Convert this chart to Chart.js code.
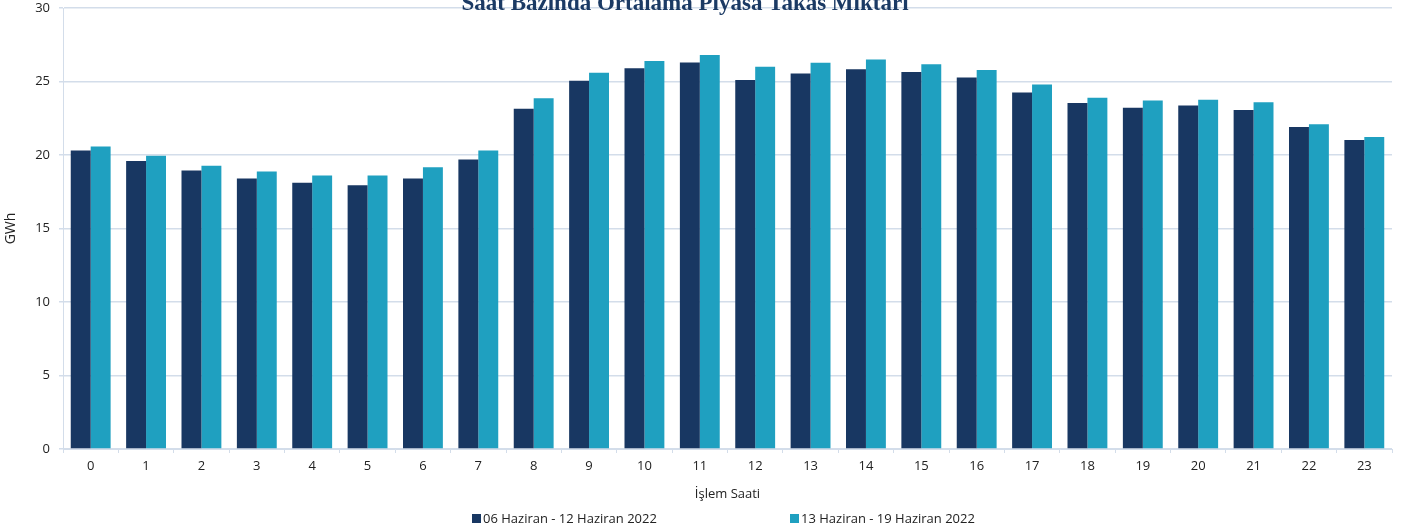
<!DOCTYPE html>
<html>
<head>
<meta charset="utf-8">
<script src="https://cdn.jsdelivr.net/npm/chart.js@4.4.1/dist/chart.umd.min.js"></script>
<style>
  html, body { margin: 0; padding: 0; background: #fff; }
  #wrap { position: relative; width: 1417px; height: 532px; overflow: hidden; }
  #c { position: absolute; left: 0; top: 0; }
  .leg { position: absolute; top: 509px; font: 13px "Open Sans", sans-serif; color: #222; white-space: nowrap; line-height: 18px; }
  .leg i { display: inline-block; width: 9px; height: 9px; margin-right: 2px; vertical-align: 0px; }
</style>
</head>
<body>
<div id="wrap">
  <canvas id="c" width="1417" height="532"></canvas>
  <div class="leg" id="leg1" style="left:472px"><i style="background:#183762"></i>06 Haziran - 12 Haziran 2022</div>
  <div class="leg" id="leg2" style="left:790px"><i style="background:#1FA0C0"></i>13 Haziran - 19 Haziran 2022</div>
</div>
<script>
const chartTitle = "Saat Bazında Ortalama Piyasa Takas Miktarı";
const xTitle = "İşlem Saati";
const yTitle = "GWh";
const categories = ["0","1","2","3","4","5","6","7","8","9","10","11","12","13","14","15","16","17","18","19","20","21","22","23"];
const seriesNames = ["06 Haziran - 12 Haziran 2022", "13 Haziran - 19 Haziran 2022"];
const week1 = [20.3, 19.6, 18.95, 18.4, 18.12, 17.95, 18.4, 19.7, 23.15, 25.05, 25.9, 26.3, 25.1, 25.55, 25.83, 25.65, 25.27, 24.25, 23.54, 23.22, 23.36, 23.06, 21.9, 21.02];
const week2 = [20.58, 19.95, 19.27, 18.88, 18.6, 18.6, 19.16, 20.3, 23.86, 25.6, 26.4, 26.8, 26.0, 26.28, 26.5, 26.17, 25.78, 24.8, 23.9, 23.7, 23.76, 23.58, 22.1, 21.22];
const yTicks = [0, 5, 10, 15, 20, 25, 30];

const gridColor = "#D3DDEA";
const tickFont = { family: "'Open Sans', sans-serif", size: 13 };

const titlePlugin = {
  id: "topTitle",
  afterDraw(chart) {
    const ctx = chart.ctx;
    ctx.save();
    ctx.font = "bold 23px 'Liberation Serif', serif";
    ctx.fillStyle = "#1B3A64";
    ctx.textAlign = "center";
    ctx.textBaseline = "alphabetic";
    ctx.fillText(chartTitle, 685, 10);
    ctx.restore();
  }
};

new Chart(document.getElementById("c"), {
  type: "bar",
  data: {
    labels: categories,
    datasets: [
      { label: seriesNames[0], data: week1, backgroundColor: "#183762", categoryPercentage: 0.72, barPercentage: 1.0 },
      { label: seriesNames[1], data: week2, backgroundColor: "#1FA0C0", categoryPercentage: 0.72, barPercentage: 1.0 }
    ]
  },
  options: {
    responsive: false,
    animation: false,
    events: [],
    layout: { autoPadding: false, padding: { left: 0, right: 25, top: 8, bottom: 30 } },
    plugins: {
      legend: { display: false },
      title: { display: false },
      tooltip: { enabled: false }
    },
    scales: {
      x: {
        grid: { display: true, drawOnChartArea: false, drawTicks: true, tickLength: 4, color: gridColor, offset: true },
        border: { display: true, color: gridColor, width: 1 },
        ticks: { color: "#222", font: tickFont, padding: 5, maxRotation: 0 },
        title: { display: true, text: xTitle, color: "#222", font: { family: "'Open Sans', sans-serif", size: 13 }, padding: { top: 0, bottom: 0 } },
        afterFit(scale) { scale.height = 53; }
      },
      y: {
        min: 0, max: 30,
        afterBuildTicks(scale) { scale.ticks = yTicks.map(v => ({ value: v })); },
        grid: { color: gridColor, tickLength: 4, lineWidth: 1.5 },
        border: { display: true, color: gridColor, width: 1 },
        ticks: { color: "#222", font: tickFont, padding: 9 },
        title: { display: true, text: yTitle, color: "#222", font: { family: "'Open Sans', sans-serif", size: 14 }, padding: { top: 3, bottom: 0 } },
        afterFit(scale) { scale.width = 63; scale.paddingTop = 0; scale.paddingBottom = 0; }
      }
    }
  },
  plugins: [titlePlugin]
});
</script>
</body>
</html>
